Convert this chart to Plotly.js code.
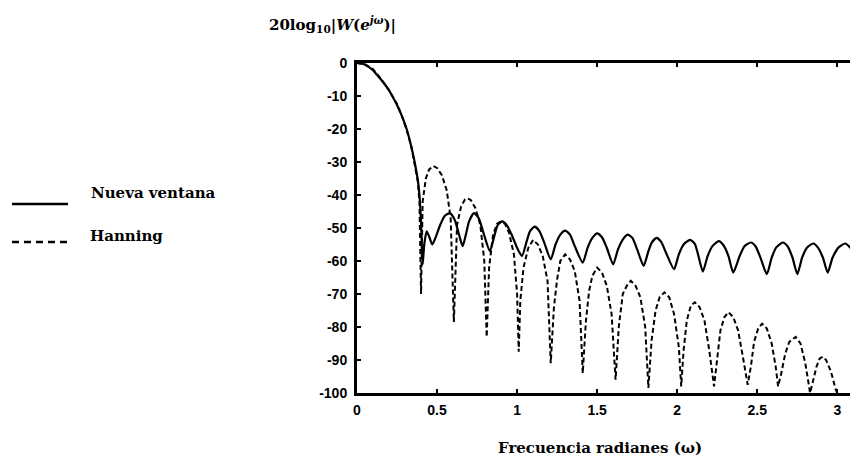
<!DOCTYPE html>
<html>
<head>
<meta charset="utf-8">
<script src="https://cdn.plot.ly/plotly-3.0.1.min.js"></script>
<style>
html,body{margin:0;padding:0;background:#fff;overflow:hidden;width:850px;height:463px;}
#chart{width:860px;height:463px;}
</style>
</head>
<body>
<div id="chart"></div>
<script>
// Frequency (rad) and magnitude (dB)
const nuevaX = [0,0.05,0.1,0.125,0.15,0.2,0.22,0.25,0.28,0.31,0.34,0.36,0.38,0.39,0.40,0.41,0.42,0.435,0.45,0.47,0.49,0.52,0.55,0.58,0.61,0.64,0.66,0.68,0.70,0.73,0.76,0.79,0.83,0.86,0.88,0.91,0.94,0.97,1.0,1.03,1.06,1.08,1.11,1.14,1.17,1.21,1.24,1.27,1.30,1.33,1.36,1.41,1.44,1.47,1.50,1.53,1.56,1.60,1.63,1.66,1.69,1.72,1.75,1.79,1.82,1.84,1.87,1.90,1.93,1.98,2.01,2.04,2.08,2.11,2.13,2.16,2.19,2.22,2.26,2.29,2.32,2.35,2.39,2.42,2.46,2.49,2.52,2.56,2.59,2.62,2.66,2.69,2.72,2.75,2.78,2.81,2.85,2.88,2.91,2.94,2.97,3.01,3.05,3.09,3.12];
const nuevaY = [0,-0.5,-2.2,-3.6,-5,-8.3,-10,-12.7,-16,-20,-25.5,-30,-35.5,-40,-48,-61,-55,-51,-52.5,-55,-53,-49,-46.2,-45.5,-47.5,-52.5,-55.5,-52,-48,-45.5,-47,-51.5,-57,-52,-49,-48,-49.5,-52.5,-56,-58.5,-54,-51,-49.6,-51,-54.5,-59.5,-55,-52,-50.8,-52,-55.5,-60.5,-56,-53,-51.6,-52.8,-56,-61,-56.5,-53.5,-52,-53,-56.5,-61.5,-57,-54.5,-53,-54.2,-57.5,-62.5,-58,-55,-53.6,-54.8,-58,-63.2,-58.5,-55.5,-54,-55.3,-58.5,-63.5,-58.5,-55.5,-54.4,-55.6,-59,-64,-59,-55.8,-54.4,-55.6,-59,-64,-59,-56,-54.7,-56,-59,-63.5,-59,-55.8,-54.7,-56.5,-60];

const hanX = [0,0.05,0.1,0.125,0.15,0.2,0.22,0.25,0.28,0.31,0.34,0.36,0.38,0.39,0.40,0.41,0.43,0.45,0.475,0.50,0.53,0.56,0.585,0.605,0.625,0.65,0.675,0.69,0.71,0.74,0.77,0.795,0.81,0.825,0.85,0.875,0.90,0.925,0.95,0.98,1.0,1.01,1.02,1.04,1.07,1.10,1.13,1.16,1.19,1.21,1.23,1.25,1.27,1.30,1.33,1.36,1.39,1.41,1.43,1.45,1.47,1.50,1.53,1.56,1.59,1.615,1.635,1.66,1.685,1.71,1.74,1.77,1.80,1.82,1.84,1.865,1.89,1.92,1.95,1.98,2.01,2.025,2.04,2.06,2.085,2.11,2.14,2.17,2.20,2.23,2.25,2.27,2.295,2.32,2.35,2.38,2.41,2.44,2.46,2.48,2.505,2.53,2.56,2.59,2.615,2.63,2.65,2.675,2.70,2.74,2.77,2.80,2.83,2.85,2.87,2.89,2.91,2.93,2.96,2.99,3.0];
const hanY = [0,-0.4,-1.9,-3.3,-4.8,-8.2,-9.8,-12.5,-16,-20.2,-25.5,-30.5,-36,-42,-70,-42,-35,-32.3,-31.2,-31.8,-34,-38.5,-47,-78.5,-49,-43.5,-41.3,-41,-41.5,-44,-49,-60,-83,-62,-52,-48.7,-48,-48.8,-51.5,-58,-70,-87.5,-72,-62,-56,-53.6,-55,-58.5,-66,-91,-74,-65.5,-60,-58,-59.5,-63,-72,-94,-78,-69,-64.5,-62,-63.5,-67.5,-76,-96,-80,-70,-67.5,-66,-67.5,-71,-80,-98.5,-84,-75,-71,-69.5,-71,-76,-86,-98,-87,-78,-73.5,-72.5,-74,-78,-87,-98,-90,-81,-77,-75.5,-77,-81,-89,-97.5,-92,-84.5,-80.5,-79,-80.5,-85,-92,-98,-94,-88,-84.5,-83,-85,-91,-100,-96,-92,-89.5,-89,-90,-93.5,-99,-100];

const xTicks = [0,0.5,1,1.5,2,2.5,3];
const xTickText = ['0','0.5','1','1.5','2','2.5','3'];
const yTicks = [0,-10,-20,-30,-40,-50,-60,-70,-80,-90,-100];
const yTickText = ['0','-10','-20','-30','-40','-50','-60','-70','-80','-90','-100'];

const seriesNames = ['Nueva ventana','Hanning'];

// layout geometry (pixels)
const L = 357, R = 860, T = 63, B = 393;
const px = p => (p - L) / (R - L);
const py = p => (B - p) / (B - T);

const traces = [
  {x: nuevaX, y: nuevaY, type: 'scatter', mode: 'lines', name: seriesNames[0],
   line: {color: '#000', width: 2.2, shape: 'spline', smoothing: 0.6}, showlegend: false},
  {x: hanX, y: hanY, type: 'scatter', mode: 'lines', name: seriesNames[1],
   line: {color: '#000', width: 2, dash: '5px,3px'}, showlegend: false}
];

const serif = {family: 'DejaVu Serif, Liberation Serif, serif', size: 15, color: '#000', weight: 'bold'};
const tickF = {family: 'Liberation Sans, Arial, sans-serif', size: 14, color: '#000', weight: 'bold'};

const layout = {
  width: 860, height: 463,
  margin: {l: L, r: 0, t: T, b: 463 - B, pad: 0},
  paper_bgcolor: '#fff', plot_bgcolor: '#fff',
  showlegend: false,
  xaxis: {range: [0, Math.PI], tickvals: xTicks, ticktext: xTickText, ticks: 'inside', ticklen: 4,
          tickwidth: 2, tickcolor: '#000', showline: true, linecolor: '#000', linewidth: 3,
          mirror: 'ticks', showgrid: false, zeroline: false, tickfont: tickF, ticklabelstandoff: 2},
  yaxis: {range: [-100, 0], tickvals: yTicks, ticktext: yTickText, ticks: 'inside', ticklen: 4,
          tickwidth: 2, tickcolor: '#000', showline: true, linecolor: '#000', linewidth: 3,
          mirror: 'ticks', showgrid: false, zeroline: false, tickfont: tickF, ticklabelstandoff: 4},
  shapes: [
    {type: 'line', xref: 'paper', yref: 'paper', x0: px(12), x1: px(68), y0: py(204), y1: py(204),
     line: {color: '#000', width: 2.5}},
    {type: 'line', xref: 'paper', yref: 'paper', x0: px(12), x1: px(68), y0: py(242), y1: py(242),
     line: {color: '#000', width: 2.5, dash: '7px,5px'}}
  ],
  annotations: [
    {xref: 'paper', yref: 'paper', x: px(332), y: py(24), text: '20log<sub>10</sub>|<i>W</i>(<i>e</i><sup><i>jω</i></sup>)|',
     showarrow: false, font: serif, xanchor: 'center', yanchor: 'middle'},
    {xref: 'paper', yref: 'paper', x: px(600), y: py(448), text: 'Frecuencia radianes (ω)',
     showarrow: false, font: serif, xanchor: 'center', yanchor: 'middle'},
    {xref: 'paper', yref: 'paper', x: px(89), y: py(193), text: seriesNames[0],
     showarrow: false, font: serif, xanchor: 'left', yanchor: 'middle'},
    {xref: 'paper', yref: 'paper', x: px(88), y: py(236), text: seriesNames[1],
     showarrow: false, font: serif, xanchor: 'left', yanchor: 'middle'}
  ]
};

Plotly.newPlot('chart', traces, layout, {staticPlot: true, displayModeBar: false});
</script>
</body>
</html>
